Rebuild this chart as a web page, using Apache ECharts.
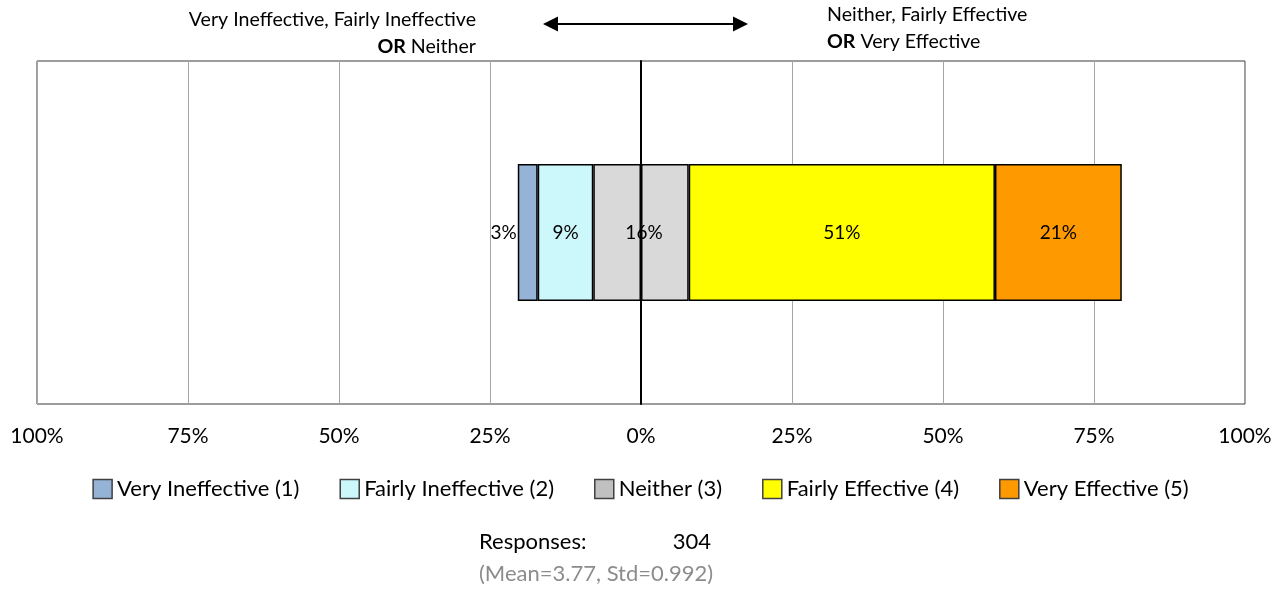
<!DOCTYPE html>
<html>
<head>
<meta charset="utf-8">
<script src="https://cdn.jsdelivr.net/npm/echarts@6/dist/echarts.min.js"></script>
<style>
  html, body { margin: 0; padding: 0; background: #ffffff; }
  #chart { width: 1281px; height: 591px; }
</style>
</head>
<body>
<div id="chart"></div>
<script>
// ---- Data (percent of responses) ----
const categories = ['Effectiveness'];
const seriesNames = ['Very Ineffective (1)', 'Fairly Ineffective (2)', 'Neither (3)', 'Fairly Effective (4)', 'Very Effective (5)'];
const veryIneffective = [3.3];
const fairlyIneffective = [9.2];
const neither = [15.8];
const fairlyEffective = [50.7];
const veryEffective = [21.0];
const axisTicks = [-100, -75, -50, -25, 0, 25, 50, 75, 100];
const responses = 304;
const meanValue = '3.77';
const stdValue = '0.992';

const colors = ['#95b3d7', '#ccf7fb', '#d9d9d9', '#ffff00', '#ff9900'];
const FONT = 'Lato';

const pctFmt = p => Math.round(Math.abs(p.value)) + '%';
const baseItem = c => ({ color: c, borderColor: '#000', borderWidth: 1.5 });
const labelBase = { show: true, color: '#000', fontFamily: FONT, fontSize: 19, formatter: pctFmt };

const chart = echarts.init(document.getElementById('chart'));
chart.setOption({
  animation: false,
  grid: { left: 37, right: 36, top: 61, bottom: 187, show: true, borderColor: '#3a3a3a', borderWidth: 1, backgroundColor: 'transparent' },
  xAxis: {
    type: 'value', min: axisTicks[0], max: axisTicks[axisTicks.length - 1], interval: 25,
    axisLine: { show: false }, axisTick: { show: false },
    splitLine: { show: true, lineStyle: { color: '#a6a6a6', width: 1 } },
    axisLabel: { margin: 22, color: '#000', fontFamily: FONT, fontSize: 21, formatter: v => Math.abs(v) + '%' }
  },
  yAxis: {
    type: 'category', data: categories, z: 10,
    axisLine: { show: true, onZero: true, lineStyle: { color: '#000', width: 2 } },
    axisTick: { show: false }, axisLabel: { show: false }, splitLine: { show: false }
  },
  legend: {
    top: 478, left: 'center', padding: 0, itemWidth: 19, itemHeight: 19, itemGap: 40, icon: 'rect',
    textStyle: { color: '#000', fontFamily: FONT, fontSize: 22 },
    itemStyle: { borderColor: '#404040', borderWidth: 1.5 },
    data: [
      { name: seriesNames[0], itemStyle: { color: colors[0] } },
      { name: seriesNames[1], itemStyle: { color: colors[1] } },
      { name: seriesNames[2], itemStyle: { color: '#c0c0c0' } },
      { name: seriesNames[3], itemStyle: { color: colors[3] } },
      { name: seriesNames[4], itemStyle: { color: colors[4] } }
    ]
  },
  series: [
    { name: seriesNames[2], type: 'bar', stack: 'tot', barWidth: '40%', data: neither.map(v => -v / 2), itemStyle: baseItem(colors[2]), label: { show: false } },
    { name: seriesNames[1], type: 'bar', stack: 'tot', barWidth: '40%', data: fairlyIneffective.map(v => -v), itemStyle: baseItem(colors[1]), label: Object.assign({}, labelBase, { position: 'inside' }) },
    { name: seriesNames[0], type: 'bar', stack: 'tot', barWidth: '40%', data: veryIneffective.map(v => -v), itemStyle: baseItem(colors[0]), label: Object.assign({}, labelBase, { position: 'left', distance: 1 }) },
    { name: seriesNames[2], type: 'bar', stack: 'tot', barWidth: '40%', data: neither.map(v => v / 2), itemStyle: baseItem(colors[2]),
      label: Object.assign({}, labelBase, { position: 'insideLeft', distance: 0, align: 'center', offset: [3, 0], formatter: p => Math.round(neither[p.dataIndex]) + '%' }) },
    { name: seriesNames[3], type: 'bar', stack: 'tot', barWidth: '40%', data: fairlyEffective, itemStyle: baseItem(colors[3]), label: Object.assign({}, labelBase, { position: 'inside' }) },
    { name: seriesNames[4], type: 'bar', stack: 'tot', barWidth: '40%', data: veryEffective, itemStyle: baseItem(colors[4]), label: Object.assign({}, labelBase, { position: 'inside' }) }
  ],
  graphic: [
    { type: 'text', style: { text: 'Very Ineffective, Fairly Ineffective', x: 476, y: 20, align: 'right', verticalAlign: 'middle', fill: '#000', font: '19.6px ' + FONT } },
    { type: 'text', style: { text: '{b|OR} Neither', x: 476, y: 47, align: 'right', verticalAlign: 'middle', fill: '#000', font: '19.6px ' + FONT,
      rich: { b: { fontWeight: 'bold', fontFamily: FONT, fontSize: 19.6, fill: '#000' } } } },
    { type: 'text', style: { text: 'Neither, Fairly Effective', x: 827, y: 15, align: 'left', verticalAlign: 'middle', fill: '#000', font: '19.6px ' + FONT } },
    { type: 'text', style: { text: '{b|OR} Very Effective', x: 827, y: 42, align: 'left', verticalAlign: 'middle', fill: '#000', font: '19.6px ' + FONT,
      rich: { b: { fontWeight: 'bold', fontFamily: FONT, fontSize: 19.6, fill: '#000' } } } },
    { type: 'line', shape: { x1: 556, y1: 24, x2: 735, y2: 24 }, style: { stroke: '#000', lineWidth: 2 } },
    { type: 'polygon', shape: { points: [[543, 24], [558, 16.5], [558, 31.5]] }, style: { fill: '#000' } },
    { type: 'polygon', shape: { points: [[748, 24], [733, 16.5], [733, 31.5]] }, style: { fill: '#000' } },
    { type: 'text', style: { text: 'Responses:', x: 479, y: 542, align: 'left', verticalAlign: 'middle', fill: '#000', font: '22px ' + FONT } },
    { type: 'text', style: { text: String(responses), x: 711, y: 542, align: 'right', verticalAlign: 'middle', fill: '#000', font: '22px ' + FONT } },
    { type: 'text', style: { text: '(Mean=' + meanValue + ', Std=' + stdValue + ')', x: 479, y: 574, align: 'left', verticalAlign: 'middle', fill: '#8c8c8c', font: '22px ' + FONT } }
  ]
});
</script>
</body>
</html>
